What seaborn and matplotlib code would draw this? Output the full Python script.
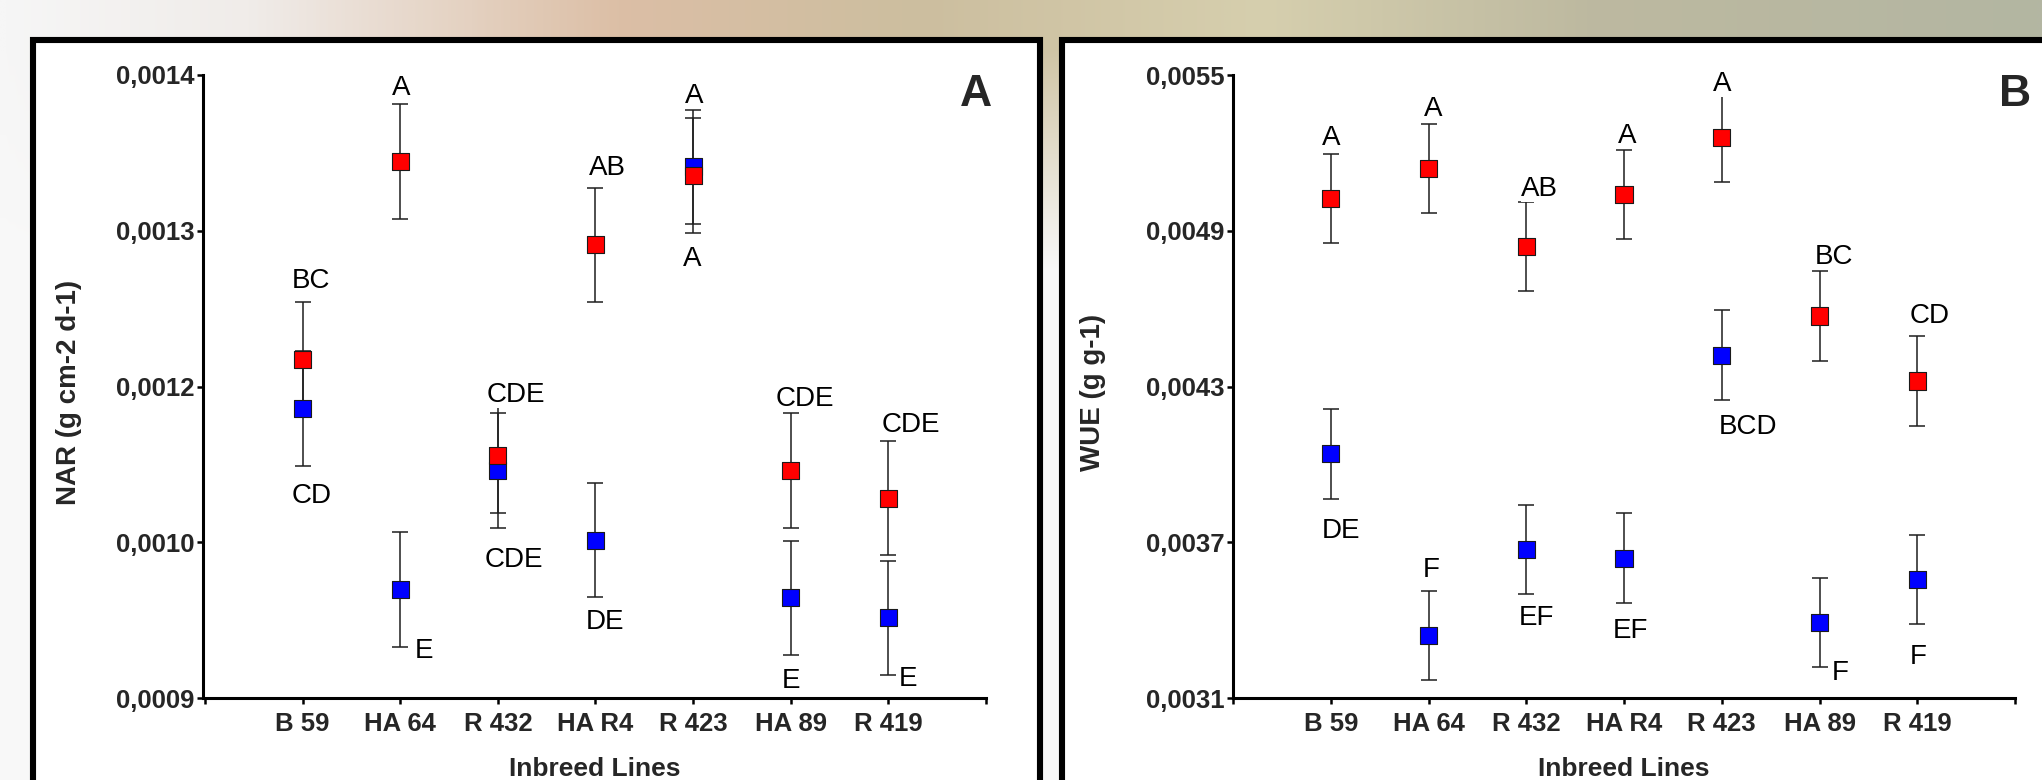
import numpy as np
import pandas as pd
import seaborn as sns
import matplotlib.pyplot as plt
from matplotlib.colors import LinearSegmentedColormap
from matplotlib.patches import Rectangle

# inbred lines on the x axis
lines = ['B 59', 'HA 64', 'R 432', 'HA R4', 'R 423', 'HA 89', 'R 419']

# panel A - NAR (g cm-2 d-1), two treatments (red / blue) with SEM
nar_red = [0.0011719, 0.0013308, 0.0010946, 0.0012636, 0.0013193, 0.0010824, 0.0010604]
nar_red_err = [0.000046, 0.000046, 0.000046, 0.000046, 0.000046, 0.000046, 0.000046]
nar_blue = [0.0011321, 0.0009873, 0.0010826, 0.0010268, 0.0013263, 0.0009803, 0.0009643]
nar_blue_err = [0.000046, 0.000046, 0.000046, 0.000046, 0.000046, 0.000046, 0.000046]
nar_red_letters = ['BC', 'A', 'CDE', 'AB', 'A', 'CDE', 'CDE']
nar_blue_letters = ['CD', 'E', 'CDE', 'DE', 'A', 'E', 'E']
nar_ticklabels = ['0,0009', '0,0010', '0,0012', '0,0013', '0,0014']

# panel B - WUE (g g-1)
wue_red = [0.0050231, 0.0051406, 0.0048401, 0.0050389, 0.0052585, 0.0045716, 0.0043212]
wue_red_err = [0.000172, 0.000172, 0.000172, 0.000172, 0.000172, 0.000172, 0.000172]
wue_blue = [0.0040400, 0.0033415, 0.0036728, 0.0036393, 0.0044213, 0.0033920, 0.0035557]
wue_blue_err = [0.000172, 0.000172, 0.000172, 0.000172, 0.000172, 0.000172, 0.000172]
wue_red_letters = ['A', 'A', 'AB', 'A', 'A', 'BC', 'CD']
wue_blue_letters = ['DE', 'F', 'EF', 'EF', 'BCD', 'F', 'F']
wue_ticklabels = ['0,0031', '0,0037', '0,0043', '0,0049', '0,0055']

# where the letters sit, in pixels from the marker centre (x right, y up)
nar_red_off = [(8, 81), (1, 76), (18, 63), (12, 80), (-1, -81), (14, 75), (23, 76)]
nar_blue_off = [(9, -84), (24, -59), (16, -87), (10, -79), (1, 74), (0, -80), (20, -58)]
wue_red_off = [(0, 64), (5, 62), (13, 60), (3, 62), (0, 57), (14, 62), (12, 68)]
wue_blue_off = [(10, -74), (3, 68), (10, -66), (6, -70), (26, -69), (21, -48), (1, -74)]

RED = '#ff0000'
BLUE = '#0000ff'

sns.set_theme(style='ticks')
plt.rcParams['font.family'] = ['Liberation Sans', 'DejaVu Sans']

fig = plt.figure(figsize=(20.42, 7.8), dpi=100)

# blurred photo-like backdrop
bg = fig.add_axes([0, 0, 1, 1], zorder=-10)
bg.set_axis_off()
bg_cmap = LinearSegmentedColormap.from_list('bg', [
    (0.0, '#f6f6f6'), (0.12, '#f0ece9'), (0.3, '#dcbfa6'), (0.45, '#ccbe9f'),
    (0.62, '#d6cfae'), (0.78, '#bdb9a0'), (1.0, '#b3b6a2')])
xs = np.linspace(0, 1, 500)
ys = np.linspace(0, 780, 300)
top = bg_cmap(xs)[:, :3]
fade = np.clip((ys - 50) / 220, 0, 1)[:, None, None]
img = top[None, :, :] * (1 - fade) + np.array([0.975, 0.975, 0.975]) * fade
bg.imshow(img, aspect='auto', extent=[0, 1, 0, 1], origin='upper', interpolation='bilinear')
bg.set_xlim(0, 1)
bg.set_ylim(0, 1)

# white panels with heavy black frames
for x0, x1 in [(32.5, 1040), (1061.5, 2080)]:
    fig.add_artist(Rectangle((x0 / 2042, -0.1), (x1 - x0) / 2042, 0.1 + 1 - 39.5 / 780,
                             transform=fig.transFigure, facecolor='white',
                             edgecolor='black', linewidth=4.4, zorder=-5))


def draw_panel(rect, red, red_err, blue, blue_err, red_letters, blue_letters,
               red_off, blue_off, ylim, ticklabels, ylabel, xlim, ylabel_x, tag, tag_x):
    ax = fig.add_axes(rect)
    ax.set_facecolor('white')
    pos = np.arange(len(lines))
    df = pd.DataFrame({
        'pos': np.concatenate([pos, pos]),
        'value': blue + red,
        'series': ['blue'] * len(lines) + ['red'] * len(lines),
    })
    for vals, errs in [(blue, blue_err), (red, red_err)]:
        ax.errorbar(pos, vals, yerr=errs, fmt='none', ecolor='#1e1e1e',
                    elinewidth=1.1, capsize=6, capthick=1.1, zorder=2)
    sns.scatterplot(data=df, x='pos', y='value', hue='series',
                    palette={'red': RED, 'blue': BLUE}, marker='s', s=150,
                    edgecolor='#1a1a1a', linewidth=0.8, legend=False, ax=ax, zorder=3)

    cap_half = 0.716 * 20 / 72 * 100 / 2
    for vals, letters, offs in [(red, red_letters, red_off), (blue, blue_letters, blue_off)]:
        for i, (v, t, (dx, dy)) in enumerate(zip(vals, letters, offs)):
            ax.annotate(t, xy=(i, v), xytext=(dx, dy - cap_half), textcoords='offset pixels',
                        ha='center', va='baseline', fontsize=20, color='black', zorder=4,
                        bbox=dict(boxstyle='square,pad=0', fc='white', ec='none'))

    ax.set_xlim(*xlim)
    ax.set_ylim(*ylim)
    ax.set_xticks(range(-1, 8))
    ax.set_xticklabels([''] + lines + [''], fontsize=18.5, fontweight='bold')
    ax.set_yticks(np.linspace(ylim[0], ylim[1], len(ticklabels)))
    ax.set_yticklabels(ticklabels, fontsize=18.5, fontweight='bold')
    ax.tick_params(axis='both', direction='out', length=4, width=1.8, color='black')
    ax.tick_params(axis='y', pad=2)
    ax.tick_params(axis='x', pad=6)
    for side in ['top', 'right']:
        ax.spines[side].set_visible(False)
    for side in ['left', 'bottom']:
        ax.spines[side].set_linewidth(2.2)
        ax.spines[side].set_color('black')
    ax.set_xlabel('Inbreed Lines', fontsize=19, fontweight='bold')
    ax.xaxis.set_label_coords(0.5, -0.095)
    ax.set_ylabel(ylabel, fontsize=20, fontweight='bold')
    ax.yaxis.set_label_coords(ylabel_x, 0.49)
    fig.text(tag_x, 1 - 95 / 780, tag, fontsize=32, fontweight='bold', ha='center', va='center')
    return ax


draw_panel([203 / 2042, 1 - 698 / 780, 783 / 2042, 623 / 780],
           nar_red, nar_red_err, nar_blue, nar_blue_err, nar_red_letters, nar_blue_letters,
           nar_red_off, nar_blue_off, (0.0009, 0.0014), nar_ticklabels,
           'NAR (g cm-2 d-1)', (-1.02, 7.0), -0.155, 'A', 976 / 2042)

draw_panel([1233 / 2042, 1 - 698 / 780, 782 / 2042, 623 / 780],
           wue_red, wue_red_err, wue_blue, wue_blue_err, wue_red_letters, wue_blue_letters,
           wue_red_off, wue_blue_off, (0.0031, 0.0055), wue_ticklabels,
           'WUE (g g-1)', (-1.0, 7.0), -0.162, 'B', 2015 / 2042)

fig.savefig('out.png', dpi=100)
